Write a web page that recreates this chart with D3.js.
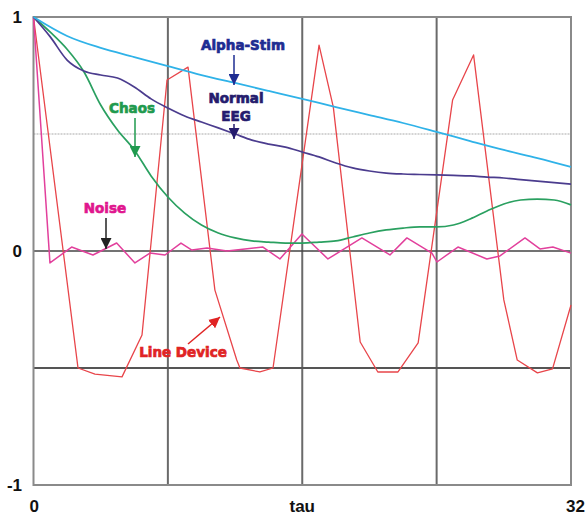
<!DOCTYPE html>
<html lang="en">
    <head>
        <meta charset="utf-8">
        <title>Autocorrelation</title>
        <script type="text/javascript" src="https://d3js.org/d3.v7.min.js"></script>
        <style type="text/css">
            body { margin: 0; background: white; }
            text { font-family: "Liberation Sans", Arial, sans-serif; font-weight: bold; }
            text.note { font-family: "DejaVu Sans", sans-serif; }
        </style>
    </head>
    <body>
        <script type="text/javascript">

        // Data
        var tauGrid = d3.range(0, 33);
        var alphaTau = [0, 2, 4, 6, 8, 10, 12, 14, 16, 18, 20, 22, 24, 26, 28, 30, 32];
        var alphaStim = [1.0, 0.919, 0.868, 0.829, 0.79, 0.752, 0.718, 0.684, 0.65, 0.615, 0.581, 0.547, 0.509, 0.47, 0.432, 0.397, 0.359];
        var normalEEG = [1.0, 0.915, 0.816, 0.769, 0.752, 0.739, 0.701, 0.65, 0.611, 0.577, 0.551, 0.526, 0.5, 0.474, 0.457, 0.444,
                         0.423, 0.402, 0.376, 0.355, 0.342, 0.333, 0.329, 0.327, 0.325, 0.323, 0.321, 0.316, 0.312, 0.305, 0.299, 0.292, 0.286];
        var chaos = [1.0, 0.935, 0.862, 0.766, 0.624, 0.517, 0.432, 0.321, 0.231, 0.162, 0.111, 0.077, 0.056, 0.043, 0.038, 0.034,
                     0.034, 0.038, 0.043, 0.06, 0.077, 0.09, 0.098, 0.103, 0.103, 0.111, 0.137, 0.171, 0.201, 0.218, 0.222, 0.218, 0.197];
        var noiseTau = [0, 0.98, 2.27, 3.54, 4.95, 6.04, 6.93, 7.83, 8.78, 9.43, 10.33, 11.52, 12.59, 13.66, 14.67, 15.98,
                        17.53, 19.55, 21.22, 22.23, 23.72, 24.02, 25.27, 26.99, 27.77, 29.26, 30.15, 30.92, 32];
        var noise = [1.0, -0.051, 0.017, -0.017, 0.034, -0.051, -0.009, -0.017, 0.034, 0.004, 0.013, 0, 0.009, 0.017, -0.034, 0.073,
                     -0.034, 0.056, -0.017, 0.056, -0.009, -0.047, 0.017, -0.034, -0.021, 0.056, 0.009, 0.017, -0.009];
        var deviceTau = [0, 2.65, 3.66, 5.27, 6.46, 7.95, 9.2, 10.8, 12.1, 12.29, 13.48, 14.26, 17.0, 17.85, 19.45, 20.5, 21.7,
                         22.9, 24.95, 26.2, 28.0, 28.8, 30.0, 30.9, 32];
        var lineDevice = [1.0, -0.5, -0.526, -0.538, -0.359, 0.731, 0.786, -0.167, -0.466, -0.5, -0.517, -0.5, 0.88, 0.615, -0.389,
                          -0.517, -0.517, -0.393, 0.645, 0.838, -0.209, -0.466, -0.521, -0.504, -0.231];

        var yTicks = [1, 0, -1];
        var xTickPos = [0, 16, 32];
        var xTickLabels = ["0", "tau", "32"];

        var w = 587;
        var h = 516;

        var x = d3.scaleLinear().domain([0, 32]).range([33.5, 571]);
        var y = d3.scaleLinear().domain([-1, 1]).range([485, 17]);

        var svg = d3.select("body")
                    .append("svg")
                    .attr("width", w)
                    .attr("height", h);

        // grid
        svg.append("line")
            .attr("x1", x(0)).attr("x2", x(32))
            .attr("y1", y(0.5)).attr("y2", y(0.5))
            .attr("stroke", "#d4d4d4").attr("stroke-width", 2)
            .attr("stroke-dasharray", "2,1");

        svg.selectAll("line.vgrid")
            .data([8, 16, 24])
            .enter()
            .append("line")
            .attr("class", "vgrid")
            .attr("x1", function(d){ return x(d); })
            .attr("x2", function(d){ return x(d); })
            .attr("y1", y(1)).attr("y2", y(-1))
            .attr("stroke", "#6a6a6a").attr("stroke-width", 2);

        svg.append("line")
            .attr("x1", x(0)).attr("x2", x(32))
            .attr("y1", y(-0.5)).attr("y2", y(-0.5))
            .attr("stroke", "#555").attr("stroke-width", 2);

        svg.append("line")
            .attr("x1", x(0)).attr("x2", x(32))
            .attr("y1", y(0)).attr("y2", y(0))
            .attr("stroke", "#444").attr("stroke-width", 1.6);

        svg.append("rect")
            .attr("x", x(0)).attr("y", y(1))
            .attr("width", x(32) - x(0)).attr("height", y(-1) - y(1))
            .attr("fill", "none")
            .attr("stroke", "#8a8a8a").attr("stroke-width", 2);

        // series
        var smooth = d3.line()
            .x(function(d){ return x(d[0]); })
            .y(function(d){ return y(d[1]); })
            .curve(d3.curveMonotoneX);
        var straight = d3.line()
            .x(function(d){ return x(d[0]); })
            .y(function(d){ return y(d[1]); });

        var series = [
            { pts: d3.zip(deviceTau, lineDevice), color: "#e8454a", width: 1.3, gen: straight },
            { pts: d3.zip(noiseTau, noise), color: "#e2409c", width: 1.5, gen: straight },
            { pts: d3.zip(tauGrid, chaos), color: "#2aa060", width: 1.7, gen: smooth },
            { pts: d3.zip(tauGrid, normalEEG), color: "#4b3c8e", width: 1.7, gen: smooth },
            { pts: d3.zip(alphaTau, alphaStim), color: "#2fb2e8", width: 1.8, gen: smooth }
        ];

        svg.selectAll("path.series")
            .data(series)
            .enter()
            .append("path")
            .attr("class", "series")
            .attr("fill", "none")
            .attr("stroke", function(d){ return d.color; })
            .attr("stroke-width", function(d){ return d.width; })
            .attr("stroke-linejoin", "round")
            .attr("d", function(d){ return d.gen(d.pts); });

        // annotations
        var defs = svg.append("defs");
        function marker(id, color) {
            defs.append("marker")
                .attr("id", id)
                .attr("viewBox", "0 0 10 10")
                .attr("refX", 10).attr("refY", 5)
                .attr("markerWidth", 11).attr("markerHeight", 11)
                .attr("markerUnits", "userSpaceOnUse")
                .attr("orient", "auto")
                .append("path")
                .attr("d", "M0,0L10,5L0,10Z")
                .attr("fill", color);
        }

        var notes = [
            { lines: ["Alpha-Stim"], tx: 243, ty: 50, color: "#1e2c92", arrow: [234, 55, 234, 85], ac: "#1e2c92" },
            { lines: ["Normal", "EEG"], tx: 236, ty: 103, color: "#251c6e", arrow: [234, 124, 234, 139], ac: "#251c6e" },
            { lines: ["Chaos"], tx: 132, ty: 113, color: "#1f9a4e", arrow: [135, 118, 135, 157], ac: "#1f9a4e" },
            { lines: ["Noise"], tx: 105, ty: 213, color: "#e0168e", arrow: [106, 218, 106, 249], ac: "#222" },
            { lines: ["Line Device"], tx: 183, ty: 357, color: "#e02424", arrow: [188, 344, 220, 317], ac: "#e02424" }
        ];

        notes.forEach(function(n, i){
            var id = "arr" + i;
            marker(id, n.ac);
            svg.append("line")
                .attr("x1", n.arrow[0]).attr("y1", n.arrow[1])
                .attr("x2", n.arrow[2]).attr("y2", n.arrow[3])
                .attr("stroke", n.ac).attr("stroke-width", 1.5)
                .attr("marker-end", "url(#" + id + ")");
            n.lines.forEach(function(t, j){
                svg.append("text")
                    .attr("class", "note")
                    .attr("x", n.tx).attr("y", n.ty + j * 18)
                    .attr("text-anchor", "middle")
                    .attr("font-size", 13.5)
                    .attr("fill", n.color)
                    .attr("stroke", n.color).attr("stroke-width", 0.7)
                    .text(t);
            });
        });

        // tick labels
        svg.selectAll("text.ytick")
            .data(yTicks)
            .enter()
            .append("text")
            .attr("class", "ytick")
            .attr("x", 22)
            .attr("y", function(d){ return y(d) + 6; })
            .attr("text-anchor", "end")
            .attr("font-size", 17)
            .attr("fill", "#111")
            .text(function(d){ return d; });

        svg.selectAll("text.xtick")
            .data(xTickPos)
            .enter()
            .append("text")
            .attr("class", "xtick")
            .attr("x", function(d){ return x(d); })
            .attr("y", 512)
            .attr("text-anchor", function(d, i){ return i == 2 ? "end" : (i == 0 ? "start" : "middle"); })
            .attr("dx", function(d, i){ return i == 2 ? 14 : (i == 0 ? -4 : 0); })
            .attr("font-size", 17)
            .attr("fill", "#111")
            .text(function(d, i){ return xTickLabels[i]; });

        </script>
    </body>
</html>
